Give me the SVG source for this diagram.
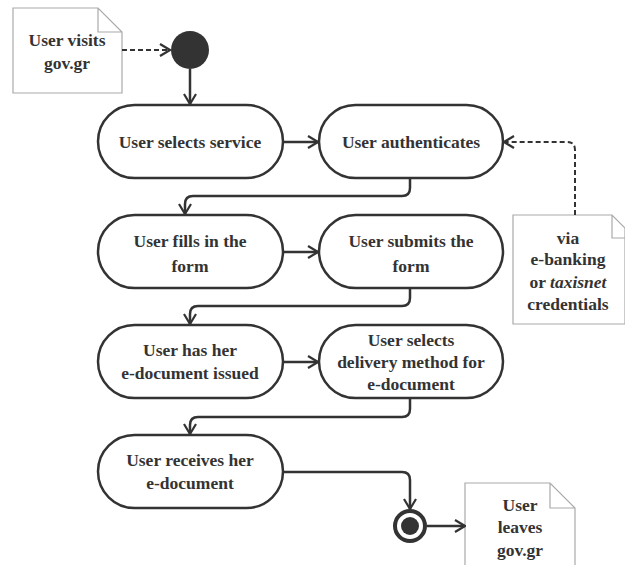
<svg xmlns="http://www.w3.org/2000/svg" width="625" height="565" viewBox="0 0 625 565">
<style>
.act rect{fill:#fff;stroke:#333;stroke-width:2.5}
.memo path{fill:#fff;stroke:#aaa;stroke-width:1.2}
.t{font-family:"Liberation Serif",serif;font-weight:bold;font-size:17.5px;fill:#333;text-anchor:middle}
.c{fill:none;stroke:#333;stroke-width:2.5}
.d{fill:none;stroke:#333;stroke-width:2;stroke-dasharray:5,3}
</style>
<defs>
<marker id="arr" viewBox="0 0 12 14" refX="11" refY="7" markerWidth="12" markerHeight="14" markerUnits="userSpaceOnUse" orient="auto">
<path d="M1,1 L11,7 L1,13" fill="none" stroke="#333" stroke-width="2.2"/>
</marker>
</defs>
<rect width="625" height="565" fill="#fff"/>
<g id="note-visit" class="memo">
<path d="M13,8 H98 L122,32 V93 H13 Z M98,8 V32 H122"/>
<text x="67" y="46" class="t">User visits</text>
<text x="67" y="69" class="t">gov.gr</text>
</g>
<g id="start"><circle cx="190" cy="50" r="19" fill="#333"/></g>
<g id="n1" class="act"><rect x="98" y="105" width="185" height="73" rx="36.5"/><text x="190" y="148" class="t">User selects service</text></g>
<g id="n2" class="act"><rect x="319" y="105" width="184" height="73" rx="36.5"/><text x="411" y="148" class="t">User authenticates</text></g>
<g id="n3" class="act"><rect x="98" y="215" width="185" height="73" rx="36.5"/><text x="190" y="247" class="t">User fills in the</text><text x="190" y="272" class="t">form</text></g>
<g id="n4" class="act"><rect x="319" y="215" width="184" height="73" rx="36.5"/><text x="411" y="247" class="t">User submits the</text><text x="411" y="272" class="t">form</text></g>
<g id="n5" class="act"><rect x="98" y="325" width="185" height="73" rx="36.5"/><text x="190" y="356" class="t">User has her</text><text x="190" y="379" class="t">e-document issued</text></g>
<g id="n6" class="act"><rect x="319" y="325" width="184" height="73" rx="36.5"/><text x="411" y="346" class="t">User selects</text><text x="411" y="368" class="t">delivery method for</text><text x="411" y="390" class="t">e-document</text></g>
<g id="n7" class="act"><rect x="98" y="435" width="185" height="73" rx="36.5"/><text x="190" y="466" class="t">User receives her</text><text x="190" y="489" class="t">e-document</text></g>
<g id="end"><circle cx="410" cy="526" r="15" fill="#fff" stroke="#333" stroke-width="4"/><circle cx="410" cy="526" r="9" fill="#333"/></g>
<g id="note-auth" class="memo">
<path d="M513,215 H612 L625,228 V324 H513 Z M612,215 V238 H625"/>
<text x="568" y="244" class="t">via</text>
<text x="568" y="265" class="t">e-banking</text>
<text x="568" y="288" class="t">or <tspan font-style="italic">taxisnet</tspan></text>
<text x="568" y="310" class="t">credentials</text>
</g>
<g id="note-leave" class="memo">
<path d="M465,483 H550 L575,508 V570 H465 Z M550,483 V508 H575"/>
<text x="520" y="511" class="t">User</text>
<text x="520" y="533" class="t">leaves</text>
<text x="520" y="556" class="t">gov.gr</text>
</g>
<g id="connectors">
<path class="d" d="M122,50 H170" marker-end="url(#arr)"/>
<path class="c" d="M190,69 V104" marker-end="url(#arr)"/>
<path class="c" d="M283,142 H318" marker-end="url(#arr)"/>
<path class="d" d="M575,215 V150 Q575,142 567,142 H504" marker-end="url(#arr)"/>
<path class="c" d="M410,178 V188 Q410,196 402,196 H193 Q185,196 185,204 V214" marker-end="url(#arr)"/>
<path class="c" d="M283,252 H318" marker-end="url(#arr)"/>
<path class="c" d="M410,288 V298 Q410,306 402,306 H198 Q190,306 190,314 V324" marker-end="url(#arr)"/>
<path class="c" d="M283,362 H318" marker-end="url(#arr)"/>
<path class="c" d="M410,398 V409 Q410,417 402,417 H198 Q190,417 190,425 V434" marker-end="url(#arr)"/>
<path class="c" d="M283,472 H402 Q410,472 410,480 V509" marker-end="url(#arr)"/>
<path class="c" d="M427,526 H465" marker-end="url(#arr)"/>
</g>
</svg>
